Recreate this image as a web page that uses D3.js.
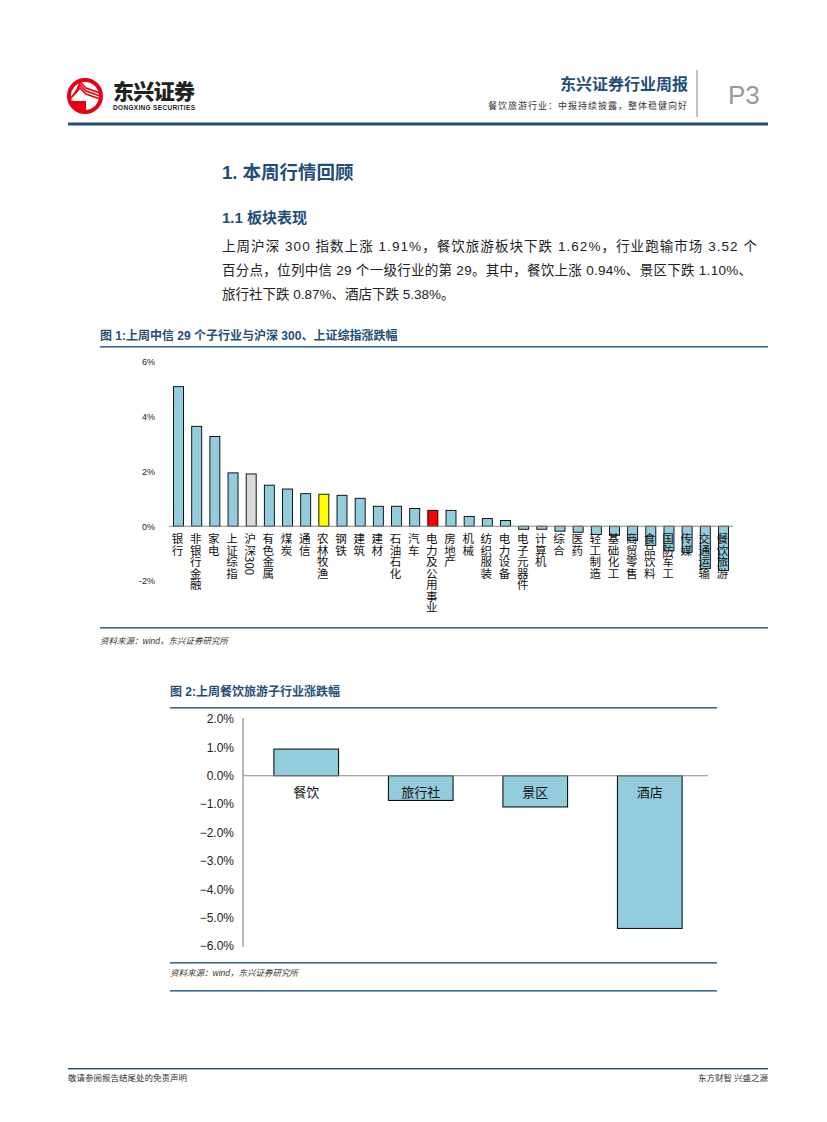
<!DOCTYPE html>
<html>
<head>
<meta charset="utf-8">
<script src="https://cdn.jsdelivr.net/npm/d3@7"></script>
<style>
  body { margin: 0; background: #fff; }
  svg { display: block; }
</style>
</head>
<body>
<div id="page"></div>
<script>
// chart 1: 中信一级行业 + 两个指数, 上周涨跌幅 (%)
const industries = ['银行','非银行金融','家电','上证综指','沪深300','有色金属','煤炭','通信','农林牧渔','钢铁',
  '建筑','建材','石油石化','汽车','电力及公用事业','房地产','机械','纺织服装','电力设备','电子元器件',
  '计算机','综合','医药','轻工制造','基础化工','商贸零售','食品饮料','国防军工','传媒','交通运输','餐饮旅游'];
const industryChg = [5.10, 3.65, 3.28, 1.95, 1.91, 1.50, 1.36, 1.19, 1.17, 1.13,
  1.02, 0.73, 0.73, 0.65, 0.58, 0.58, 0.36, 0.28, 0.21, -0.11,
  -0.11, -0.18, -0.22, -0.30, -0.33, -0.52, -0.70, -0.90, -0.95, -1.55, -1.62];
const chart1Ticks = [-2, 0, 2, 4, 6];

// chart 2: 餐饮旅游子行业
const subSectors = ['餐饮','旅行社','景区','酒店'];
const subChg = [0.94, -0.87, -1.10, -5.38];
const chart2Ticks = [2, 1, 0, -1, -2, -3, -4, -5, -6];

const W = 827, H = 1122;
const navy = '#1f4e79';
const barBlue = '#93cddd';
const latin = '"Liberation Sans", Arial, "Noto Sans CJK SC", sans-serif';
const cjk = '"Noto Sans CJK SC", "Liberation Sans", sans-serif';

const svg = d3.select('#page').append('svg')
    .attr('width', W).attr('height', H)
    .attr('viewBox', [0, 0, W, H]);

// ---------- header ----------
const logo = svg.append('g');
logo.append('circle').attr('cx', 85).attr('cy', 96).attr('r', 16)
    .attr('fill', '#fff').attr('stroke', '#e60012').attr('stroke-width', 4);
logo.append('path').attr('d', 'M70,101 L86,101 L86,110 A14,14 0 0 1 70,101 Z').attr('fill', '#e60012');
[0, 3, 6].forEach(d => {
  logo.append('path')
      .attr('d', `M${70 + d},${99 - d} L${80},${88 - d} L${86},${94 - d} L${100},${99 - d}`)
      .attr('fill', 'none').attr('stroke', '#e60012').attr('stroke-width', 1.6);
});
svg.append('text').attr('x', 113).attr('y', 99)
    .attr('font-family', cjk).attr('font-weight', 900).attr('font-size', 21)
    .attr('textLength', 82).attr('fill', '#222').text('东兴证券');
svg.append('text').attr('x', 113).attr('y', 110)
    .attr('font-family', latin).attr('font-weight', 'bold').attr('font-size', 6.5)
    .attr('textLength', 82).attr('fill', '#222').text('DONGXING SECURITIES');

svg.append('text').attr('x', 688).attr('y', 90).attr('text-anchor', 'end')
    .attr('font-family', cjk).attr('font-weight', 'bold').attr('font-size', 16)
    .attr('fill', navy).text('东兴证券行业周报');
svg.append('text').attr('x', 688).attr('y', 109).attr('text-anchor', 'end')
    .attr('font-family', cjk).attr('font-size', 9).attr('fill', '#333')
    .attr('letter-spacing', 1).text('餐饮旅游行业：中报持续披露，整体稳健向好');
svg.append('line').attr('x1', 697).attr('x2', 697).attr('y1', 70).attr('y2', 117)
    .attr('stroke', '#999').attr('stroke-width', 1.2);
svg.append('text').attr('x', 728).attr('y', 104)
    .attr('font-family', '"Liberation Sans Narrow", "Liberation Sans", sans-serif')
    .attr('font-size', 26).attr('fill', '#999').text('P3');
svg.append('rect').attr('x', 68).attr('y', 122.5).attr('width', 700).attr('height', 3).attr('fill', navy);

// ---------- section text ----------
svg.append('text').attr('x', 222).attr('y', 179)
    .attr('font-family', latin).attr('font-weight', 'bold').attr('font-size', 18.5)
    .attr('fill', navy).text('1. 本周行情回顾');
svg.append('text').attr('x', 222).attr('y', 223)
    .attr('font-family', latin).attr('font-weight', 'bold').attr('font-size', 15)
    .attr('fill', navy).text('1.1 板块表现');

const para = [
  { t: '上周沪深 300 指数上涨 1.91%，餐饮旅游板块下跌 1.62%，行业跑输市场 3.52 个', len: 535 },
  { t: '百分点，位列中信 29 个一级行业的第 29。其中，餐饮上涨 0.94%、景区下跌 1.10%、', len: 530 },
  { t: '旅行社下跌 0.87%、酒店下跌 5.38%。', len: null }
];
para.forEach((p, i) => {
  const t = svg.append('text').attr('x', 222).attr('y', 251 + i * 24)
      .attr('font-family', latin).attr('font-size', 13.5).attr('fill', '#222').text(p.t);
  if (p.len) t.attr('textLength', p.len).attr('lengthAdjust', 'spacing');
});

// ---------- chart 1 ----------
svg.append('text').attr('x', 100).attr('y', 340)
    .attr('font-family', latin).attr('font-weight', 'bold').attr('font-size', 12)
    .attr('fill', navy).text('图 1:上周中信 29 个子行业与沪深 300、上证综指涨跌幅');
svg.append('rect').attr('x', 100).attr('y', 346).attr('width', 668).attr('height', 1.6).attr('fill', '#3b6a94');
svg.append('rect').attr('x', 100).attr('y', 627).attr('width', 668).attr('height', 1.6).attr('fill', '#3b6a94');
svg.append('text').attr('x', 100).attr('y', 644)
    .attr('font-family', latin).attr('font-style', 'italic').attr('font-size', 8.5)
    .attr('fill', '#333').text('资料来源：wind，东兴证券研究所');

const x1 = d3.scaleBand().domain(industries).range([169, 733]).paddingInner(0.45).paddingOuter(0.25);
const y1 = d3.scaleLinear().domain([-2, 6]).range([581, 362]);

const c1 = svg.append('g');
c1.append('g')
    .attr('transform', 'translate(158,0)')
    .call(d3.axisLeft(y1).tickValues(chart1Ticks).tickSize(0).tickFormat(d => d + '%'))
    .call(g => g.select('.domain').remove())
    .call(g => g.selectAll('text').attr('font-family', latin).attr('font-size', 9).attr('fill', '#222'));

const barColor = d => d === '沪深300' ? '#d9d9d9' : d === '农林牧渔' ? '#ffff00' : d === '电力及公用事业' ? '#ff0000' : barBlue;

c1.append('g').selectAll('rect')
    .data(industries)
    .join('rect')
    .attr('x', d => x1(d))
    .attr('width', x1.bandwidth())
    .attr('y', (d, i) => y1(Math.max(0, industryChg[i])))
    .attr('height', (d, i) => Math.abs(y1(industryChg[i]) - y1(0)))
    .attr('fill', d => barColor(d))
    .attr('stroke', '#000').attr('stroke-width', 0.9);

c1.append('line').attr('x1', 169).attr('x2', 733).attr('y1', y1(0)).attr('y2', y1(0))
    .attr('stroke', '#888').attr('stroke-width', 1.2);

c1.append('g').selectAll('text')
    .data(industries)
    .join('text')
    .attr('x', d => x1(d) + x1.bandwidth() / 2 - 1)
    .attr('y', 533)
    .style('writing-mode', 'vertical-rl')
    .attr('font-family', cjk).attr('font-size', 11.5).attr('fill', '#111')
    .text(d => d);

// ---------- chart 2 ----------
svg.append('text').attr('x', 170).attr('y', 696)
    .attr('font-family', latin).attr('font-weight', 'bold').attr('font-size', 12)
    .attr('fill', navy).text('图 2:上周餐饮旅游子行业涨跌幅');
svg.append('rect').attr('x', 170).attr('y', 707).attr('width', 547).attr('height', 1.6).attr('fill', '#3b6a94');
svg.append('rect').attr('x', 170).attr('y', 962).attr('width', 547).attr('height', 1.6).attr('fill', '#3b6a94');
svg.append('rect').attr('x', 170).attr('y', 990).attr('width', 547).attr('height', 1.6).attr('fill', '#3b6a94');
svg.append('text').attr('x', 170).attr('y', 976)
    .attr('font-family', latin).attr('font-style', 'italic').attr('font-size', 8.5)
    .attr('fill', '#333').text('资料来源：wind，东兴证券研究所');

const x2 = d3.scaleBand().domain(subSectors).range([248, 708]).paddingInner(0.435).paddingOuter(0.226);
const y2 = d3.scaleLinear().domain([-6, 2]).range([946, 719]);

const c2 = svg.append('g');
c2.append('g')
    .attr('transform', 'translate(237,0)')
    .call(d3.axisLeft(y2).tickValues(chart2Ticks).tickSize(0).tickFormat(d => d3.format('.1f')(d) + '%'))
    .call(g => g.select('.domain').remove())
    .call(g => g.selectAll('text').attr('font-family', latin).attr('font-size', 12).attr('fill', '#222'));

c2.append('g').selectAll('rect')
    .data(subSectors)
    .join('rect')
    .attr('x', d => x2(d))
    .attr('width', x2.bandwidth())
    .attr('y', (d, i) => y2(Math.max(0, subChg[i])))
    .attr('height', (d, i) => Math.abs(y2(subChg[i]) - y2(0)))
    .attr('fill', barBlue)
    .attr('stroke', '#000').attr('stroke-width', 1);

c2.append('line').attr('x1', 243).attr('x2', 243).attr('y1', 718).attr('y2', 947)
    .attr('stroke', '#888').attr('stroke-width', 1.2);
c2.append('line').attr('x1', 243).attr('x2', 708).attr('y1', y2(0)).attr('y2', y2(0))
    .attr('stroke', '#888').attr('stroke-width', 1.2);

c2.append('g').selectAll('text')
    .data(subSectors)
    .join('text')
    .attr('x', d => x2(d) + x2.bandwidth() / 2)
    .attr('y', 797)
    .attr('text-anchor', 'middle')
    .attr('font-family', cjk).attr('font-size', 13).attr('fill', '#111')
    .text(d => d);

// ---------- footer ----------
svg.append('rect').attr('x', 68).attr('y', 1068).attr('width', 700).attr('height', 1.4).attr('fill', navy);
svg.append('text').attr('x', 68).attr('y', 1081)
    .attr('font-family', cjk).attr('font-size', 8.5).attr('fill', '#333')
    .text('敬请参阅报告结尾处的免责声明');
svg.append('text').attr('x', 768).attr('y', 1081).attr('text-anchor', 'end')
    .attr('font-family', cjk).attr('font-size', 8.5).attr('fill', '#333')
    .text('东方财智 兴盛之源');
</script>
</body>
</html>
